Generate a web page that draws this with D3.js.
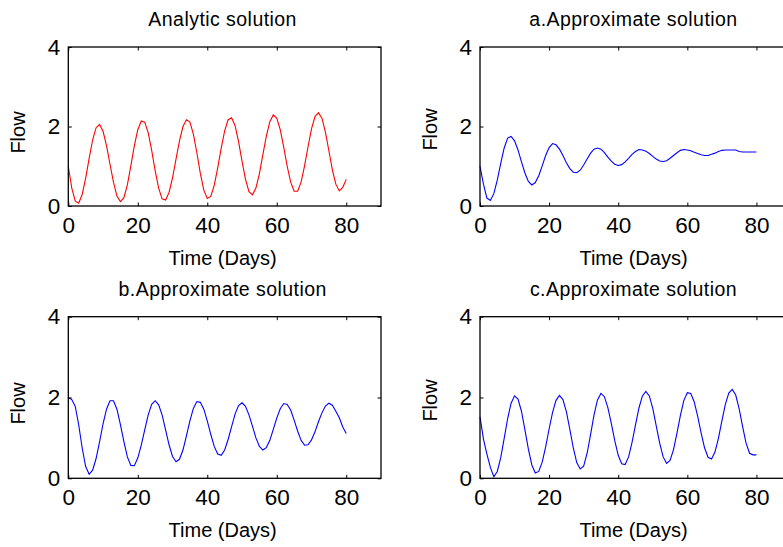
<!DOCTYPE html>
<html>
<head>
<meta charset="utf-8">
<script src="https://cdn.jsdelivr.net/npm/d3@7"></script>
<style>
  html, body { margin: 0; padding: 0; background: #fff; }
  svg { display: block; }
  text { font-family: "Liberation Sans", Arial, Helvetica, sans-serif; fill: #000; }
</style>
</head>
<body>
<svg id="chart" width="783" height="547"></svg>
<script>
// ---- data ----
const days = d3.range(0, 81); // 0..80 days
const xTicks = [0, 20, 40, 60, 80];
const yTicks = [0, 2, 4];
const titles = ["Analytic solution", "a.Approximate solution", "b.Approximate solution", "c.Approximate solution"];
const xLabel = "Time (Days)";
const yLabel = "Flow";
const colors = ["#ff0000", "#0000ff", "#0000ff", "#0000ff"];

const analytic = [1.00,0.45,0.12,0.07,0.29,0.70,1.20,1.66,1.97,2.05,
  1.88,1.52,1.05,0.60,0.25,0.11,0.21,0.53,1.01,1.51,
  1.92,2.14,2.11,1.84,1.40,0.89,0.45,0.18,0.15,0.34,
  0.71,1.18,1.64,2.00,2.17,2.11,1.81,1.34,0.82,0.40,
  0.19,0.24,0.52,0.96,1.45,1.89,2.17,2.22,2.02,1.62,
  1.13,0.67,0.36,0.28,0.45,0.81,1.29,1.76,2.12,2.29,
  2.21,1.92,1.48,1.00,0.60,0.37,0.37,0.60,1.01,1.49,
  1.94,2.25,2.35,2.21,1.86,1.39,0.91,0.55,0.38,0.47,0.67];

const approxA = [1.00,0.55,0.20,0.14,0.31,0.65,1.07,1.46,1.71,1.75,
  1.64,1.41,1.11,0.83,0.62,0.53,0.59,0.76,1.01,1.27,
  1.47,1.57,1.54,1.43,1.27,1.09,0.94,0.85,0.84,0.90,
  1.03,1.18,1.33,1.43,1.46,1.43,1.34,1.23,1.13,1.05,
  1.02,1.04,1.11,1.20,1.30,1.37,1.42,1.41,1.38,1.32,
  1.25,1.18,1.13,1.12,1.14,1.20,1.27,1.34,1.40,1.42,
  1.41,1.39,1.35,1.32,1.29,1.27,1.27,1.30,1.33,1.37,
  1.40,1.41,1.41,1.41,1.41,1.37,1.36,1.36,1.36,1.36,1.36];

const approxB = [2.00,1.95,1.78,1.32,0.75,0.29,0.10,0.20,0.49,0.90,
  1.35,1.71,1.92,1.92,1.71,1.33,0.91,0.53,0.32,0.31,
  0.50,0.82,1.20,1.57,1.83,1.92,1.82,1.57,1.20,0.83,
  0.54,0.41,0.47,0.70,1.05,1.42,1.73,1.90,1.88,1.71,
  1.42,1.09,0.79,0.60,0.57,0.70,0.96,1.28,1.59,1.80,
  1.87,1.78,1.57,1.29,1.00,0.79,0.70,0.76,0.94,1.21,
  1.49,1.72,1.85,1.83,1.69,1.44,1.17,0.94,0.82,0.83,
  0.95,1.15,1.40,1.62,1.79,1.86,1.81,1.66,1.50,1.27,1.11];

const approxC = [1.52,0.97,0.60,0.27,0.04,0.17,0.51,0.99,1.48,1.86,
  2.04,1.96,1.66,1.20,0.72,0.33,0.13,0.17,0.40,0.78,
  1.22,1.63,1.93,2.05,1.95,1.65,1.21,0.75,0.39,0.23,
  0.30,0.62,1.08,1.57,1.94,2.10,2.02,1.75,1.36,0.93,
  0.57,0.36,0.34,0.53,0.89,1.32,1.74,2.04,2.15,2.04,
  1.73,1.30,0.87,0.53,0.37,0.44,0.71,1.12,1.56,1.93,
  2.12,2.10,1.89,1.53,1.12,0.75,0.52,0.48,0.65,0.99,
  1.42,1.83,2.11,2.20,2.06,1.72,1.28,0.87,0.62,0.58,0.58];

const seriesList = [analytic, approxA, approxB, approxC];

// ---- layout ----
const panels = [
  {x0: 68.3, x1: 381, y0: 47, y1: 206, flowX: 18, flowDy: 6},
  {x0: 480, x1: 791, y0: 47, y1: 206, flowX: 430, flowDy: 3},
  {x0: 68.3, x1: 381, y0: 316.7, y1: 478.3, flowX: 18, flowDy: 6},
  {x0: 480, x1: 791, y0: 316.7, y1: 478.3, flowX: 430, flowDy: 3}
];
const FONT = "Liberation Sans, Arial, sans-serif";

const svg = d3.select("#chart");
svg.append("rect").attr("width", 783).attr("height", 547).attr("fill", "#fff");

panels.forEach((p, i) => {
  const x = d3.scaleLinear().domain([0, 90]).range([p.x0, p.x1]);
  const y = d3.scaleLinear().domain([0, 4]).range([p.y1, p.y0]);
  const g = svg.append("g");

  // curve
  const line = d3.line().x((d, j) => x(days[j])).y(d => y(d));
  g.append("path")
    .datum(seriesList[i])
    .attr("d", line)
    .attr("fill", "none")
    .attr("stroke", colors[i])
    .attr("stroke-width", 1.1);

  // box
  g.append("rect")
    .attr("x", p.x0).attr("y", p.y0)
    .attr("width", p.x1 - p.x0).attr("height", p.y1 - p.y0)
    .attr("fill", "none").attr("stroke", "#000").attr("stroke-width", 1.3);

  const styleAxis = sel => {
    sel.select(".domain").remove();
    sel.selectAll(".tick line").attr("stroke", "#000").attr("stroke-width", 1);
  };

  // bottom axis with labels
  const ax = g.append("g").attr("transform", `translate(0,${p.y1})`)
    .call(d3.axisBottom(x).tickValues(xTicks).tickSizeInner(-3.5).tickSizeOuter(0).tickPadding(11).tickFormat(d3.format("d")));
  styleAxis(ax);
  ax.selectAll("text").attr("font-size", 22.5).attr("font-family", FONT).attr("fill", "#000");

  // top ticks
  const axT = g.append("g").attr("transform", `translate(0,${p.y0})`)
    .call(d3.axisTop(x).tickValues(xTicks).tickSizeInner(-3.5).tickSizeOuter(0).tickFormat(""));
  styleAxis(axT);

  // left axis with labels
  const ay = g.append("g").attr("transform", `translate(${p.x0},0)`)
    .call(d3.axisLeft(y).tickValues(yTicks).tickSizeInner(-3.5).tickSizeOuter(0).tickPadding(8).tickFormat(d3.format("d")));
  styleAxis(ay);
  ay.selectAll("text").attr("font-size", 22.5).attr("font-family", FONT).attr("fill", "#000");

  // right ticks
  const ayR = g.append("g").attr("transform", `translate(${p.x1},0)`)
    .call(d3.axisRight(y).tickValues(yTicks).tickSizeInner(-3.5).tickSizeOuter(0).tickFormat(""));
  styleAxis(ayR);

  const cx = (p.x0 + p.x1) / 2 - 2;
  // title
  g.append("text").attr("x", cx).attr("y", p.y0 - 21)
    .attr("text-anchor", "middle").attr("font-size", 19.5)
    .attr("letter-spacing", "0.45px").text(titles[i]);
  // x label
  g.append("text").attr("x", cx).attr("y", p.y1 + 58.5)
    .attr("text-anchor", "middle").attr("font-size", 20).text(xLabel);
  // y label
  const cy = (p.y0 + p.y1) / 2 + p.flowDy;
  g.append("text")
    .attr("transform", `translate(${p.flowX},${cy}) rotate(-90)`)
    .attr("text-anchor", "middle").attr("dy", "0.36em")
    .attr("font-size", 20).text(yLabel);
});
</script>
</body>
</html>
